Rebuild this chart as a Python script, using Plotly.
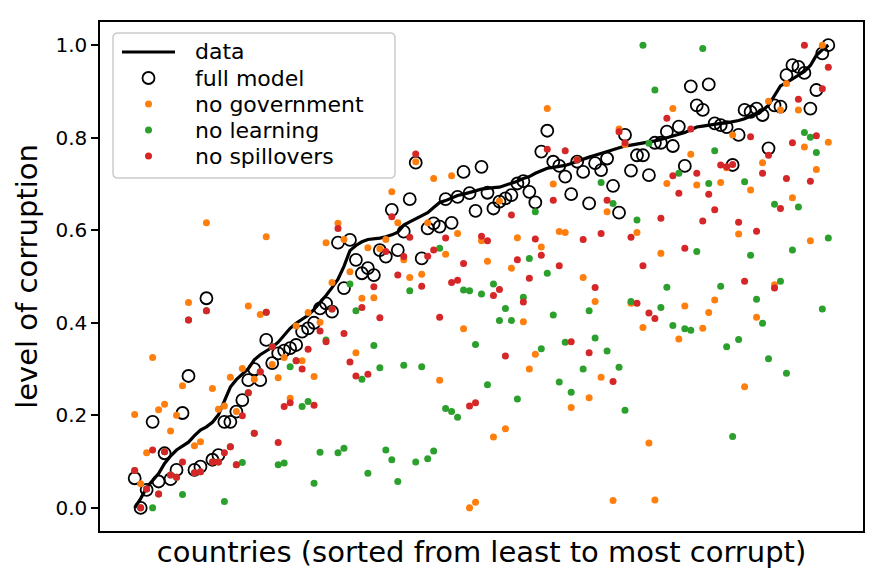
import numpy as np
import plotly.graph_objects as go

# ---------------- data ----------------
data = [
    0.0, 0.02, 0.044, 0.058, 0.074, 0.096, 0.112, 0.125, 0.134, 0.142,
    0.156, 0.168, 0.175, 0.185, 0.201, 0.233, 0.261, 0.277, 0.288, 0.301,
    0.320, 0.331, 0.339, 0.347, 0.358, 0.372, 0.388, 0.399, 0.407, 0.416,
    0.429, 0.443, 0.459, 0.476, 0.494, 0.522, 0.556, 0.567, 0.575, 0.580,
    0.581, 0.583, 0.586, 0.590, 0.596, 0.611, 0.618, 0.625, 0.632, 0.638,
    0.649, 0.660, 0.664, 0.669, 0.675, 0.678, 0.681, 0.685, 0.689, 0.691,
    0.692, 0.693, 0.697, 0.701, 0.706, 0.712, 0.716, 0.723, 0.729, 0.734,
    0.736, 0.738, 0.740, 0.744, 0.749, 0.754, 0.758, 0.762, 0.766, 0.770,
    0.775, 0.779, 0.782, 0.784, 0.786, 0.788, 0.790, 0.793, 0.796, 0.800,
    0.804, 0.807, 0.811, 0.817, 0.823, 0.825, 0.827, 0.830, 0.831, 0.832,
    0.834, 0.837, 0.841, 0.847, 0.853, 0.859, 0.870, 0.890, 0.912, 0.919,
    0.927, 0.935, 0.943, 0.956, 0.978, 0.990, 1.0,
]

full_model = [
    0.064, 0.0, 0.039, 0.186, 0.057, 0.118, 0.062, 0.082, 0.205, 0.285,
    0.082, 0.089, 0.453, 0.104, 0.114, 0.186, 0.186, 0.208, 0.233, 0.276,
    0.300, 0.276, 0.363, 0.313, 0.334, 0.340, 0.345, 0.352, 0.381, 0.388,
    0.400, 0.431, 0.442, 0.424, 0.573, 0.475, 0.579, 0.536, 0.507, 0.518,
    0.503, 0.557, 0.543, 0.644, 0.557, 0.597, 0.667, 0.746, 0.539, 0.604,
    0.615, 0.608, 0.667, 0.616, 0.672, 0.726, 0.680, 0.642, 0.737, 0.681,
    0.647, 0.662, 0.669, 0.676, 0.701, 0.706, 0.683, 0.660, 0.770, 0.815,
    0.748, 0.739, 0.716, 0.678, 0.748, 0.726, 0.658, 0.745, 0.730, 0.755,
    0.696, 0.638, 0.806, 0.729, 0.762, 0.762, 0.719, 0.789, 0.789, 0.813,
    0.782, 0.824, 0.739, 0.911, 0.870, 0.860, 0.915, 0.831, 0.827, 0.823,
    0.741, 0.806, 0.860, 0.856, 0.863, 0.849, 0.777, 0.870, 0.867, 0.935,
    0.957, 0.953, 0.940, 0.863, 0.903, 0.982, 1.0,
]

no_government = [
    0.202, 0.052, 0.119, 0.325, 0.212, 0.224, 0.166, 0.200, 0.264, 0.444,
    0.134, 0.143, 0.616, 0.258, 0.213, 0.220, 0.282, 0.208, 0.301, 0.436,
    0.278, 0.418, 0.586, 0.310, 0.281, 0.325, 0.237, 0.393, 0.318, 0.422,
    0.284, 0.401, 0.573, 0.487, 0.615, 0.580, 0.510, 0.335, 0.453, 0.562,
    0.454, 0.560, 0.580, 0.683, 0.616, 0.536, 0.498, 0.748, 0.505, 0.616,
    0.712, 0.276, 0.548, 0.718, 0.593, 0.387, 0.0, 0.012, 0.577, 0.533,
    0.153, 0.663, 0.171, 0.518, 0.584, 0.402, 0.300, 0.332, 0.564, 0.863,
    0.700, 0.597, 0.595, 0.217, 0.753, 0.498, 0.238, 0.446, 0.282, 0.640,
    0.016, 0.819, 0.785, 0.442, 0.595, 0.390, 0.140, 0.017, 0.550, 0.701,
    0.863, 0.365, 0.436, 0.764, 0.698, 0.388, 0.422, 0.449, 0.703, 0.735,
    0.806, 0.592, 0.262, 0.687, 0.412, 0.746, 0.879, 0.482, 0.860, 0.917,
    0.670, 0.860, 0.780, 0.577, 0.731, 1.0, 0.790,
]

no_learning = [
    0.081, 0.0, 0.041, 0.0, 0.030, 0.121, 0.071, 0.066, 0.029, 0.406,
    0.076, 0.078, 0.426, 0.099, 0.099, 0.014, 0.132, 0.093, 0.098, 0.249,
    0.161, 0.294, 0.423, 0.348, 0.093, 0.097, 0.305, 0.318, 0.219, 0.230,
    0.053, 0.120, 0.363, 0.430, 0.119, 0.129, 0.484, 0.426, 0.278, 0.075,
    0.351, 0.303, 0.125, 0.104, 0.057, 0.308, 0.469, 0.099, 0.305, 0.106,
    0.123, 0.561, 0.215, 0.208, 0.196, 0.471, 0.469, 0.353, 0.462, 0.266,
    0.484, 0.405, 0.431, 0.405, 0.235, 0.455, 0.539, 0.640, 0.344, 0.507,
    0.417, 0.272, 0.358, 0.250, 0.752, 0.300, 0.426, 0.367, 0.703, 0.339,
    0.658, 0.304, 0.211, 0.446, 0.622, 1.0, 0.788, 0.903, 0.433, 0.477,
    0.394, 0.723, 0.387, 0.384, 0.554, 0.993, 0.701, 0.772, 0.479, 0.348,
    0.154, 0.364, 0.705, 0.546, 0.451, 0.399, 0.322, 0.656, 0.490, 0.291,
    0.557, 0.650, 0.811, 0.801, 0.768, 0.430, 0.583,
]

no_spillovers = [
    0.081, 0.0, 0.041, 0.125, 0.030, 0.121, 0.071, 0.066, 0.099, 0.406,
    0.076, 0.078, 0.426, 0.099, 0.099, 0.119, 0.132, 0.093, 0.199, 0.249,
    0.161, 0.294, 0.423, 0.348, 0.141, 0.219, 0.227, 0.318, 0.300, 0.343,
    0.222, 0.382, 0.359, 0.430, 0.604, 0.377, 0.315, 0.285, 0.433, 0.289,
    0.478, 0.411, 0.554, 0.629, 0.503, 0.543, 0.585, 0.765, 0.479, 0.544,
    0.557, 0.412, 0.583, 0.487, 0.492, 0.528, 0.220, 0.227, 0.587, 0.577,
    0.459, 0.472, 0.328, 0.633, 0.536, 0.445, 0.496, 0.581, 0.546, 0.775,
    0.665, 0.523, 0.772, 0.359, 0.752, 0.580, 0.335, 0.476, 0.593, 0.665,
    0.273, 0.813, 0.789, 0.585, 0.442, 0.523, 0.421, 0.409, 0.626, 0.842,
    0.718, 0.680, 0.561, 0.819, 0.723, 0.620, 0.678, 0.644, 0.741, 0.737,
    0.742, 0.617, 0.490, 0.802, 0.598, 0.723, 0.762, 0.475, 0.647, 0.712,
    0.789, 0.883, 1.0, 0.706, 0.804, 0.906, 0.952,
]

y_ticks = [0.0, 0.2, 0.4, 0.6, 0.8, 1.0]
y_tick_labels = ["0.0", "0.2", "0.4", "0.6", "0.8", "1.0"]
legend_labels = ["data", "full model", "no government", "no learning", "no spillovers"]
x_title = "countries (sorted from least to most corrupt)"
y_title = "level of corruption"

# ---------------- styling / layout ----------------
W, H = 886, 586
L, R, T, B = 100, 23, 22, 55
PW, PH = W - L - R, H - T - B
FONT = "DejaVu Sans"
C_ORANGE, C_GREEN, C_RED = "#ff7f0e", "#2ca02c", "#d62728"

n = len(data)
idx = np.arange(n)

fig = go.Figure()
fig.add_trace(go.Scatter(x=idx, y=data, mode="lines",
                         line=dict(color="black", width=3.2), showlegend=False))
fig.add_trace(go.Scatter(x=idx, y=full_model, mode="markers",
                         marker=dict(symbol="circle-open", size=12, color="black",
                                     line=dict(width=1.8)), showlegend=False))
for vals, col in [(no_government, C_ORANGE), (no_learning, C_GREEN), (no_spillovers, C_RED)]:
    fig.add_trace(go.Scatter(x=idx, y=vals, mode="markers",
                             marker=dict(size=7, color=col, line=dict(width=0)),
                             showlegend=False))


def px_x(p):
    return (p - L) / PW


def px_y(p):
    return (H - B - p) / PH


# legend (drawn manually to match matplotlib's compact legend)
bx0, bx1, by0, by1 = px_x(113), px_x(395), px_y(178), px_y(33)
rx, ry = 5 / PW, 5 / PH
path = (f"M {bx0+rx},{by1} L {bx1-rx},{by1} Q {bx1},{by1} {bx1},{by1-ry} "
        f"L {bx1},{by0+ry} Q {bx1},{by0} {bx1-rx},{by0} L {bx0+rx},{by0} "
        f"Q {bx0},{by0} {bx0},{by0+ry} L {bx0},{by1-ry} Q {bx0},{by1} {bx0+rx},{by1} Z")
shapes = [dict(type="path", xref="paper", yref="paper", path=path,
               line=dict(color="#cccccc", width=1.5), fillcolor="rgba(255,255,255,0.8)",
               layer="above")]
rows = [52.0, 78.0, 104.0, 130.0, 156.0]
hx = 148.5
shapes.append(dict(type="line", xref="paper", yref="paper", x0=px_x(122), x1=px_x(175),
                   y0=px_y(rows[0]), y1=px_y(rows[0]), line=dict(color="black", width=3.2),
                   layer="above"))
shapes.append(dict(type="circle", xref="paper", yref="paper", xsizemode="pixel",
                   ysizemode="pixel", xanchor=px_x(hx), yanchor=px_y(rows[1]),
                   x0=-6, x1=6, y0=-6, y1=6, line=dict(color="black", width=1.8),
                   layer="above"))
for r, col in zip(rows[2:], [C_ORANGE, C_GREEN, C_RED]):
    shapes.append(dict(type="circle", xref="paper", yref="paper", xsizemode="pixel",
                       ysizemode="pixel", xanchor=px_x(hx), yanchor=px_y(r),
                       x0=-3.5, x1=3.5, y0=-3.5, y1=3.5, line=dict(width=0),
                       fillcolor=col, layer="above"))
annotations = []
for r, lab in zip(rows, legend_labels):
    annotations.append(dict(text=lab, x=px_x(194), y=px_y(r), xref="paper", yref="paper",
                            xanchor="left", yanchor="middle", showarrow=False,
                            borderpad=0,
                            font=dict(size=22, color="black", family=FONT)))

fig.update_layout(
    width=W, height=H,
    margin=dict(l=L, r=R, t=T, b=B, pad=0),
    paper_bgcolor="white", plot_bgcolor="white",
    font=dict(family=FONT, color="black"),
    shapes=shapes, annotations=annotations,
    showlegend=False,
    xaxis=dict(range=[-0.05 * (n - 1), 1.05 * (n - 1)], showticklabels=False, ticks="",
               showgrid=False, zeroline=False, showline=True, mirror=True,
               linecolor="black", linewidth=1.5, automargin=False,
               title=dict(text=x_title, font=dict(size=29), standoff=10)),
    yaxis=dict(range=[-0.05, 1.05], tickvals=y_ticks, ticktext=y_tick_labels,
               ticks="outside", ticklen=7, tickwidth=1.5, tickcolor="black",
               tickfont=dict(size=20), showgrid=False, zeroline=False,
               showline=True, mirror=True, linecolor="black", linewidth=1.5,
               automargin=False,
               title=dict(text=y_title, font=dict(size=29), standoff=9)),
)

fig.write_html("out.html")
